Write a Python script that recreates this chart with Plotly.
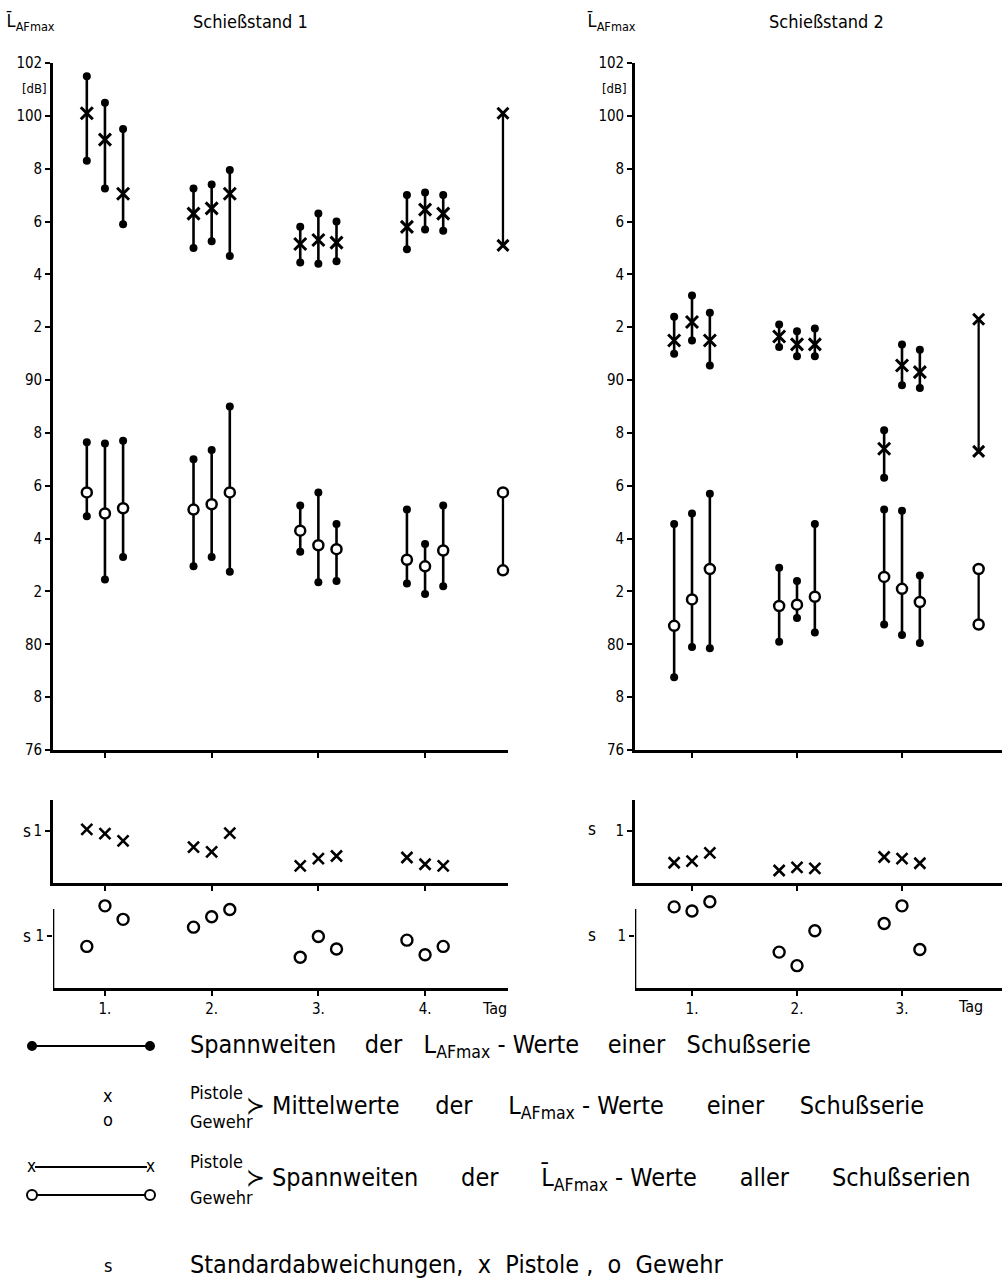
import plotly.graph_objects as go

# ---------------- data ----------------
days_1 = [1, 2, 3, 4]
days_2 = [1, 2, 3]
day_labels_1 = ["1.", "2.", "3.", "4."]
day_labels_2 = ["1.", "2.", "3."]

# Schießstand 1 – Pistole (three series per day)
st1_pist_max = [[101.5, 100.5, 99.5], [97.25, 97.4, 97.95], [95.8, 96.3, 96.0], [97.0, 97.1, 97.0]]
st1_pist_mean = [[100.1, 99.1, 97.05], [96.3, 96.5, 97.05], [95.15, 95.3, 95.2], [95.8, 96.45, 96.3]]
st1_pist_min = [[98.3, 97.25, 95.9], [95.0, 95.25, 94.7], [94.45, 94.4, 94.5], [94.95, 95.7, 95.65]]
st1_pist_all = [95.1, 100.1]
# Schießstand 1 – Gewehr
st1_gew_max = [[87.65, 87.6, 87.7], [87.0, 87.35, 89.0], [85.25, 85.75, 84.55], [85.1, 83.8, 85.25]]
st1_gew_mean = [[85.75, 84.95, 85.15], [85.1, 85.3, 85.75], [84.3, 83.75, 83.6], [83.2, 82.95, 83.55]]
st1_gew_min = [[84.85, 82.45, 83.3], [82.95, 83.3, 82.75], [83.5, 82.35, 82.4], [82.3, 81.9, 82.2]]
st1_gew_all = [82.8, 85.75]
# Schießstand 2 – Pistole
st2_pist_max = [[92.4, 93.2, 92.55], [92.1, 91.85, 91.95], [88.1, 91.35, 91.15]]
st2_pist_mean = [[91.5, 92.2, 91.5], [91.65, 91.35, 91.35], [87.4, 90.55, 90.3]]
st2_pist_min = [[91.0, 91.5, 90.55], [91.25, 90.9, 90.9], [86.3, 89.8, 89.7]]
st2_pist_all = [87.3, 92.3]
# Schießstand 2 – Gewehr
st2_gew_max = [[84.55, 84.95, 85.7], [82.9, 82.4, 84.55], [85.1, 85.05, 82.6]]
st2_gew_mean = [[80.7, 81.7, 82.85], [81.45, 81.5, 81.8], [82.55, 82.1, 81.6]]
st2_gew_min = [[78.75, 79.9, 79.85], [80.1, 81.0, 80.45], [80.75, 80.35, 80.05]]
st2_gew_all = [80.75, 82.85]

# standard deviations s
st1_s_pist = [[1.03, 0.95, 0.81], [0.69, 0.60, 0.96], [0.33, 0.47, 0.52], [0.49, 0.36, 0.33]]
st1_s_gew = [[0.80, 1.58, 1.32], [1.17, 1.37, 1.51], [0.59, 0.99, 0.75], [0.92, 0.64, 0.80]]
st2_s_pist = [[0.39, 0.42, 0.58], [0.24, 0.30, 0.28], [0.50, 0.47, 0.38]]
st2_s_gew = [[1.56, 1.48, 1.66], [0.69, 0.43, 1.10], [1.24, 1.58, 0.74]]

y_ticks = [76, 78, 80, 82, 84, 86, 88, 90, 92, 94, 96, 98, 100, 102]
y_ticktext = ["76", "8", "80", "2", "4", "6", "8", "90", "2", "4", "6", "8", "100", "102"]

# ---------------- layout constants ----------------
OFFS = [-0.17, 0.0, 0.17]
ALL_X_1 = 4.73
ALL_X_2 = 3.73
FONT = "DejaVu Sans Condensed, Liberation Sans Narrow, DejaVu Sans, sans-serif"
W, H = 1002, 1284
SP_TOP, SG_TOP, SG_LINE_TOP = 1.6, 1.75, 1.52


def py(px):
    return 1 - px / H


def px_x(px):
    return px / W


def positions(days):
    return [d + o for d in days for o in OFFS]


def flat(nested):
    return [v for row in nested for v in row]


def range_xy(xs, lo, hi):
    X, Y = [], []
    for x, a, b in zip(xs, lo, hi):
        X += [x, x, None]
        Y += [a, b, None]
    return X, Y


fig = go.Figure()


def add_main(days, pmax, pmean, pmin, pall, gmax, gmean, gmin, gall, all_x, xa, ya):
    xs = positions(days)
    for mx, mn in ((pmax, pmin), (gmax, gmin)):
        X, Y = range_xy(xs, flat(mn), flat(mx))
        fig.add_trace(go.Scatter(x=X, y=Y, mode="lines+markers", xaxis=xa, yaxis=ya,
                                 line=dict(color="black", width=2.6),
                                 marker=dict(symbol="circle", size=8, color="black"),
                                 cliponaxis=False, showlegend=False))
    fig.add_trace(go.Scatter(x=[all_x, all_x], y=pall, mode="lines+markers", xaxis=xa, yaxis=ya,
                             line=dict(color="black", width=2.3),
                             marker=dict(symbol="x-thin", size=11, color="black",
                                         line=dict(width=3, color="black")),
                             cliponaxis=False, showlegend=False))
    fig.add_trace(go.Scatter(x=[all_x, all_x], y=gall, mode="lines+markers", xaxis=xa, yaxis=ya,
                             line=dict(color="black", width=2.3),
                             marker=dict(symbol="circle", size=10, color="white",
                                         line=dict(width=2.5, color="black")),
                             cliponaxis=False, showlegend=False))
    fig.add_trace(go.Scatter(x=xs, y=flat(pmean), mode="markers", xaxis=xa, yaxis=ya,
                             marker=dict(symbol="x-thin", size=12, color="black",
                                         line=dict(width=3, color="black")),
                             cliponaxis=False, showlegend=False))
    fig.add_trace(go.Scatter(x=xs, y=flat(gmean), mode="markers", xaxis=xa, yaxis=ya,
                             marker=dict(symbol="circle", size=10, color="white",
                                         line=dict(width=2.5, color="black")),
                             cliponaxis=False, showlegend=False))


def add_s(days, sp, sg, xa_p, ya_p, xa_g, ya_g):
    xs = positions(days)
    fig.add_trace(go.Scatter(x=xs, y=flat(sp), mode="markers", xaxis=xa_p, yaxis=ya_p,
                             marker=dict(symbol="x-thin", size=11, color="black",
                                         line=dict(width=2.6, color="black")),
                             cliponaxis=False, showlegend=False))
    fig.add_trace(go.Scatter(x=xs, y=flat(sg), mode="markers", xaxis=xa_g, yaxis=ya_g,
                             marker=dict(symbol="circle", size=11, color="white",
                                         line=dict(width=2.4, color="black")),
                             cliponaxis=False, showlegend=False))


add_main(days_1, st1_pist_max, st1_pist_mean, st1_pist_min, st1_pist_all,
         st1_gew_max, st1_gew_mean, st1_gew_min, st1_gew_all, ALL_X_1, "x", "y")
add_s(days_1, st1_s_pist, st1_s_gew, "x2", "y2", "x3", "y3")
add_main(days_2, st2_pist_max, st2_pist_mean, st2_pist_min, st2_pist_all,
         st2_gew_max, st2_gew_mean, st2_gew_min, st2_gew_all, ALL_X_2, "x4", "y4")
add_s(days_2, st2_s_pist, st2_s_gew, "x5", "y5", "x6", "y6")

base = dict(showline=True, linecolor="black", linewidth=2.6, ticks="outside", tickcolor="black",
            tickwidth=2, ticklen=5, showgrid=False, zeroline=False, fixedrange=True,
            automargin=False, tickfont=dict(family=FONT, size=15, color="black"))

PX_PER_S = 52.0
dom_main = [py(750), py(63)]
dom_sp = [py(883), py(883 - SP_TOP * PX_PER_S)]
dom_sg = [py(988), py(988 - SG_TOP * PX_PER_S)]
xdom_1 = [px_x(53), px_x(508)]
xdom_2 = [px_x(635), 1.0]
xr_1 = [1 - 52 / 106.8, 4 + 83 / 106.8]
xr_2 = [1 - 57 / 105.0, 3 + 100 / 105.0]

layout = dict(width=W, height=H, margin=dict(l=0, r=0, t=0, b=0, pad=0, autoexpand=False),
              autosize=False, template="none",
              paper_bgcolor="white", plot_bgcolor="white",
              font=dict(family=FONT, color="black"))

shapes = []


def nm(a, n):
    return a + ("" if n == 1 else str(n))


for i, (xdom, xr, days, labs) in enumerate([(xdom_1, xr_1, days_1, day_labels_1),
                                            (xdom_2, xr_2, days_2, day_labels_2)]):
    k = 3 * i
    n1, n2, n3 = k + 1, k + 2, k + 3
    layout[nm("xaxis", n1)] = dict(base, domain=xdom, range=xr, anchor=nm("y", n1),
                                   tickvals=days, showticklabels=False)
    layout[nm("yaxis", n1)] = dict(base, domain=dom_main, range=[76, 102], anchor=nm("x", n1),
                                   tickvals=y_ticks, ticktext=y_ticktext)
    layout[nm("xaxis", n2)] = dict(base, domain=xdom, range=xr, anchor=nm("y", n2),
                                   tickvals=days, showticklabels=False)
    layout[nm("yaxis", n2)] = dict(base, domain=dom_sp, range=[0, SP_TOP], anchor=nm("x", n2),
                                   tickvals=[1], ticktext=["1"])
    layout[nm("xaxis", n3)] = dict(base, domain=xdom, range=xr, anchor=nm("y", n3),
                                   tickvals=days, ticktext=labs)
    layout[nm("yaxis", n3)] = dict(base, domain=dom_sg, range=[0, SG_TOP], anchor=nm("x", n3),
                                   tickvals=[1], ticktext=["1"], showline=False)
    shapes.append(dict(type="line", xref=nm("x", n3), yref=nm("y", n3), x0=xr[0], x1=xr[0],
                       y0=0, y1=SG_LINE_TOP, line=dict(color="black", width=2.6)))

fig.update_layout(**layout)

ann = []


def text(x, y, s, size=18, xanchor="left"):
    ann.append(dict(x=px_x(x), y=py(y), xref="paper", yref="paper", text=s, showarrow=False,
                    xanchor=xanchor, yanchor="middle", font=dict(family=FONT, size=size, color="black")))


LBAR = "L\u0304<sub>AFmax</sub>"
# headers
text(4, 22, LBAR, 18)
text(250, 22, "Schießstand 1", 18, "center")
text(585, 22, LBAR, 18)
text(826, 22, "Schießstand 2", 18, "center")
text(20, 89, "[dB]", 13)
text(600, 89, "[dB]", 13)
# s labels and "Tag"
text(27, 831, "s", 17, "center")
text(27, 936, "s", 17, "center")
text(592, 829, "s", 17, "center")
text(592, 935, "s", 17, "center")
text(494, 1008, "Tag", 16, "center")
text(970, 1006, "Tag", 16, "center")

# legend block
LS = 25
text(188, 1046, "Spannweiten    der   L<sub>AFmax</sub> - Werte    einer   Schußserie", LS)
text(108, 1095, "x", 18, "center")
text(108, 1119, "o", 18, "center")
text(188, 1092, "Pistole", 18)
text(188, 1121, "Gewehr", 18)
text(244, 1107, "≻ Mittelwerte     der     L<sub>AFmax</sub> - Werte      einer     Schußserie", LS)
text(31, 1166, "x", 17, "center")
text(150, 1166, "x", 17, "center")
text(188, 1161, "Pistole", 18)
text(188, 1197, "Gewehr", 18)
text(244, 1178, "≻ Spannweiten      der      " + LBAR + " - Werte      aller      Schußserien", LS)
text(108, 1265, "s", 18, "center")
text(188, 1264, "Standardabweichungen,  x  Pistole ,  o  Gewehr", LS)


def hline(x0, x1, y):
    shapes.append(dict(type="line", xref="paper", yref="paper", x0=px_x(x0), x1=px_x(x1),
                       y0=py(y), y1=py(y), line=dict(color="black", width=2)))


def dot(x, y, r, filled):
    shapes.append(dict(type="circle", xref="paper", yref="paper",
                       x0=px_x(x - r), x1=px_x(x + r), y0=py(y + r), y1=py(y - r),
                       fillcolor="black" if filled else "white", line=dict(color="black", width=2)))


hline(32, 150, 1046)
dot(32, 1046, 4, True)
dot(150, 1046, 4, True)
hline(35, 147, 1167)
hline(32, 150, 1195)
dot(32, 1195, 5, False)
dot(150, 1195, 5, False)

fig.update_layout(annotations=ann, shapes=shapes)
fig.write_html("out.html", config={"displayModeBar": False, "responsive": False},
               post_script="document.body.style.margin='0';document.body.style.overflow='hidden';")
